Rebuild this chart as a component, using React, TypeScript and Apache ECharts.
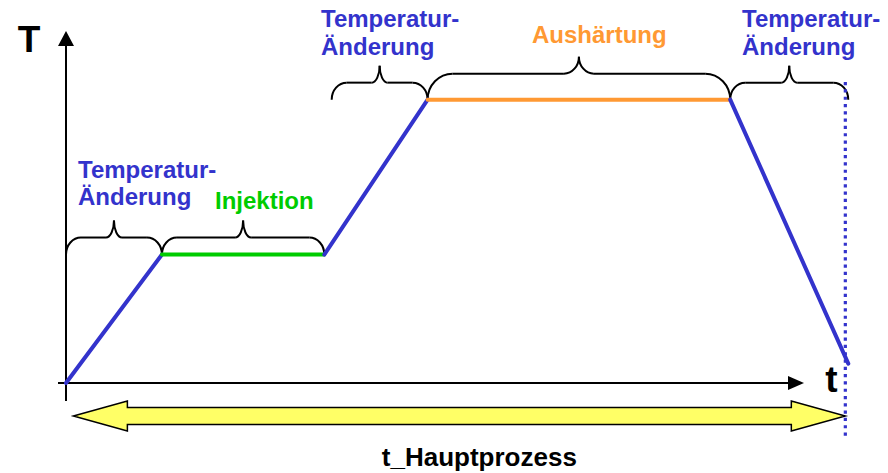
import React, { useEffect, useRef } from "react";
import * as echarts from "echarts";

// phases of the process (schematic, arbitrary units)
const phaseNames = ["Temperatur-Änderung", "Injektion", "Temperatur-Änderung", "Aushärtung", "Temperatur-Änderung"];
const timePoints = [0, 13, 35, 49, 90, 106];
const temperatures = [0, 36.5, 36.5, 80.5, 80.5, 5.5];
const phaseColors = ["#3333CC", "#00CC00", "#3333CC", "#FF9933", "#3333CC"];

// braces over each phase: [start t, end t, base T]
const braceStart = [0, 13, 36, 49, 90];
const braceEnd = [13, 35, 49, 90, 106];
const braceBase = [36.5, 36.5, 80.5, 80.5, 80.5];

// end of main process (dotted marker)
const endTime = 105.6;
const endMarkerT = [85.5, -15];

const labelLines = [
  ["Temperatur-", "Änderung"],
  ["Injektion"],
  ["Temperatur-", "Änderung"],
  ["Aushärtung"],
  ["Temperatur-", "Änderung"],
];
const labelColors = ["#3333CC", "#00CC00", "#3333CC", "#FF9933", "#3333CC"];

const FONT = "'Liberation Sans', Arial, Helvetica, sans-serif";

export default function App() {
  const ref = useRef<HTMLDivElement>(null);
  useEffect(() => {
    document.body.style.margin = "0";
    const chart = echarts.init(ref.current!, null, { renderer: "svg" });
    const series: any[] = phaseNames.map((name, i) => ({
      type: "line",
      name,
      data: [
        [timePoints[i], temperatures[i]],
        [timePoints[i + 1], temperatures[i + 1]],
      ],
      symbol: "none",
      clip: false,
      lineStyle: { color: phaseColors[i], width: 4, cap: "round" },
      z: 3,
    }));
    series.push({
      type: "line",
      name: "Ende",
      data: [
        [endTime, endMarkerT[0]],
        [endTime, endMarkerT[1]],
      ],
      symbol: "none",
      clip: false,
      lineStyle: { color: "#3333CC", width: 3.2, type: [3.2, 4.1], cap: "butt" },
      z: 2,
    });
    // axis 0..100 spans 738px horizontally and 352px vertically; extended to hold the end marker
    chart.setOption({
      animation: false,
      backgroundColor: "#ffffff",
      grid: { left: 66, top: 31, width: 738 * 1.1, height: 352 * 1.2 },
      xAxis: { type: "value", min: 0, max: 110, show: false },
      yAxis: { type: "value", min: -20, max: 100, show: false },
      series,
    });

    const P = (x: number, y: number) => chart.convertToPixel({ gridIndex: 0 }, [x, y]) as number[];
    const [ox, oy] = P(0, 0);
    const [xEnd] = P(100, 0);
    const [, yTop] = P(0, 100);
    const g: any[] = [];
    const stroke = { stroke: "#000", lineWidth: 2 };

    // axes
    g.push({ type: "line", shape: { x1: ox, y1: oy + 18, x2: ox, y2: yTop + 15 }, style: stroke });
    g.push({ type: "polygon", shape: { points: [[ox - 8, yTop + 15], [ox + 8, yTop + 15], [ox, yTop]] }, style: { fill: "#000" } });
    g.push({ type: "line", shape: { x1: ox - 8, y1: oy, x2: xEnd - 16, y2: oy }, style: stroke });
    g.push({ type: "polygon", shape: { points: [[xEnd - 16, oy - 7], [xEnd - 16, oy + 7], [xEnd, oy]] }, style: { fill: "#000" } });

    // braces
    const k = 0.552;
    braceStart.forEach((s, i) => {
      const [x0, yb] = P(s, braceBase[i]);
      const [x1] = P(braceEnd[i], braceBase[i]);
      const big = x1 - x0 > 200;
      const rise = big ? 26 : 17;
      const tipH = 17;
      const ym = yb - rise;
      const yt = ym - tipH;
      const xm = (x0 + x1) / 2;
      const rx = big ? 25 : 15;
      const tw = big ? 15 : 8;
      const st = { stroke: "#000", lineWidth: 2, fill: "none" };
      const side = (dir: number, xe: number) => {
        g.push({
          type: "bezierCurve",
          shape: {
            x1: xe, y1: yb,
            cpx1: xe, cpy1: yb - k * rise,
            cpx2: xe + dir * (rx - k * rx), cpy2: ym,
            x2: xe + dir * rx, y2: ym,
          },
          style: st,
        });
        g.push({ type: "line", shape: { x1: xe + dir * rx, y1: ym, x2: xm - dir * tw, y2: ym }, style: st });
        g.push({
          type: "bezierCurve",
          shape: {
            x1: xm - dir * tw, y1: ym,
            cpx1: xm - dir * (tw - k * tw), cpy1: ym,
            cpx2: xm, cpy2: yt + k * tipH,
            x2: xm, y2: yt,
          },
          style: st,
        });
      };
      side(1, x0);
      side(-1, x1);
    });

    // phase labels
    const labelPos = [
      [78, 169],
      [215, 200.5],
      [321, 18.8],
      [532, 34.2],
      [742, 18.8],
    ];
    labelLines.forEach((lines, i) => {
      lines.forEach((t, j) => {
        g.push({
          type: "text",
          x: labelPos[i][0],
          y: labelPos[i][1] + j * 27.5,
          style: {
            text: t,
            fill: labelColors[i],
            font: `bold 24px ${FONT}`,
            align: "left",
            verticalAlign: "middle",
          },
        });
      });
    });

    // axis titles
    g.push({ type: "text", x: 29, y: 39.5, style: { text: "T", fill: "#000", font: `bold 37px ${FONT}`, align: "center", verticalAlign: "middle" } });
    g.push({ type: "text", x: 831.5, y: 379, style: { text: "t", fill: "#000", font: `bold 37px ${FONT}`, align: "center", verticalAlign: "middle" } });

    // main process double arrow
    const [ax0] = P(1, 0);
    const [ax1] = P(endTime, 0);
    const ay = oy + 33;
    const hw = 54;
    g.push({
      type: "polygon",
      shape: {
        points: [
          [ax0, ay], [ax0 + hw, ay - 15], [ax0 + hw, ay - 8.5], [ax1 - hw, ay - 8.5], [ax1 - hw, ay - 15],
          [ax1, ay], [ax1 - hw, ay + 15], [ax1 - hw, ay + 8.5], [ax0 + hw, ay + 8.5], [ax0 + hw, ay + 15],
        ],
      },
      style: { fill: "#FFFF66", stroke: "#000", lineWidth: 1.5 },
      z: 1,
    });
    g.push({
      type: "text",
      x: (ax0 + ax1) / 2 + 20,
      y: 457,
      style: { text: "t_Hauptprozess", fill: "#000", font: `bold 26px ${FONT}`, align: "center", verticalAlign: "middle" },
    });

    chart.setOption({ graphic: g });
    return () => chart.dispose();
  }, []);
  return <div ref={ref} style={{ position: "fixed", left: 0, top: 0, width: 888, height: 473 }} />;
}
